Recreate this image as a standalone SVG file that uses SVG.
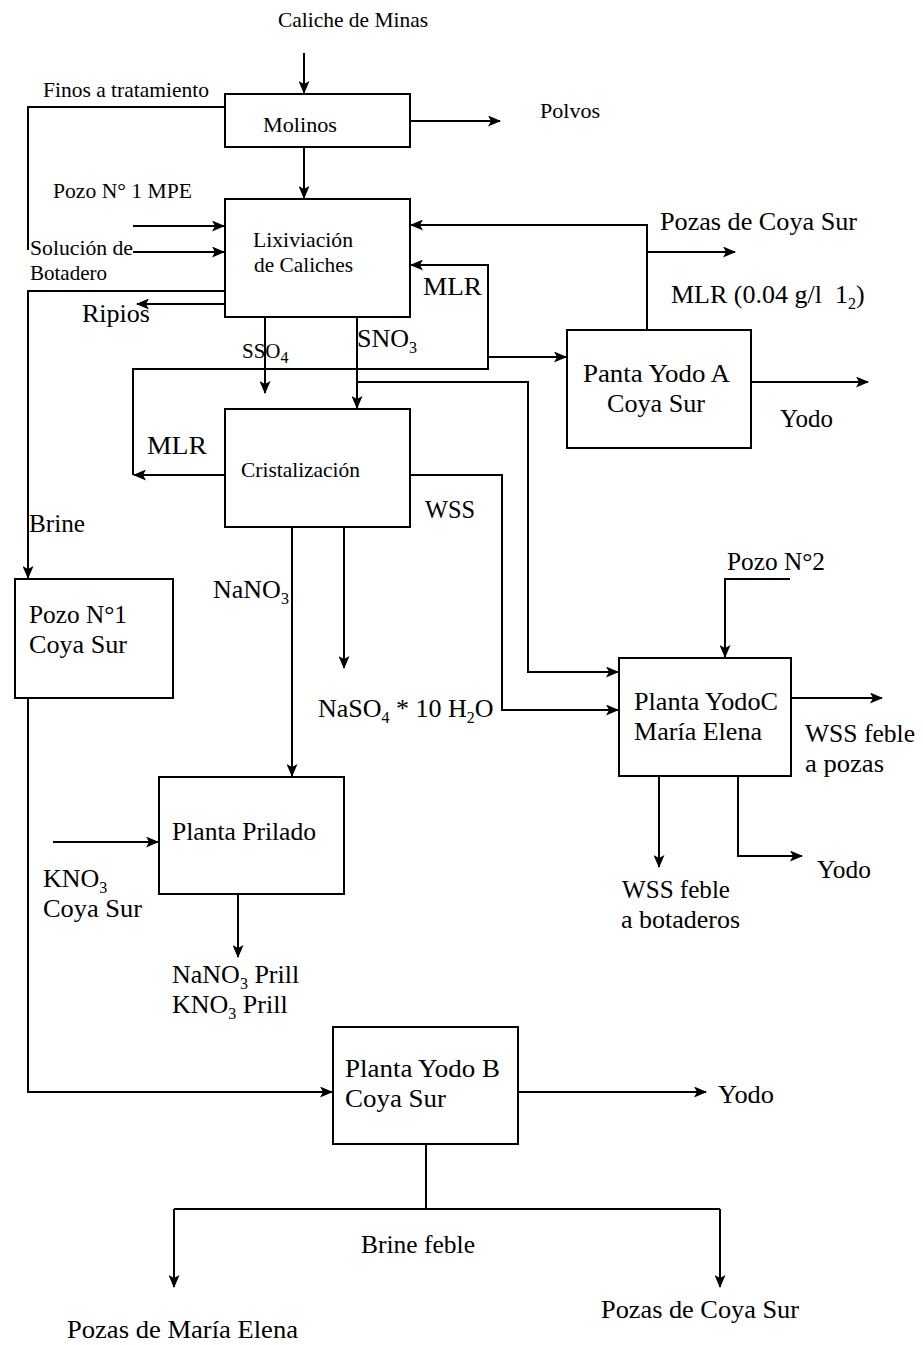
<svg xmlns="http://www.w3.org/2000/svg" width="923" height="1345" viewBox="0 0 923 1345">
<style>
.box{fill:#fff;stroke:#000;stroke-width:2}
.ln{fill:none;stroke:#000;stroke-width:2}
.arr{fill:none;stroke:#000;stroke-width:2;marker-end:url(#ah)}
.s{font-family:"Liberation Serif","Times New Roman",serif;font-size:21px;fill:#000}
.b{font-family:"Liberation Serif","Times New Roman",serif;font-size:26px;fill:#000}
.sub{font-size:16px}
</style>
<defs>
<marker id="ah" viewBox="0 0 13 11" refX="12" refY="5.5" markerWidth="13" markerHeight="11" markerUnits="userSpaceOnUse" orient="auto">
<path d="M0,0 L13,5.5 L0,11 L3,5.5 Z" fill="#000"/>
</marker>
</defs>
<rect width="923" height="1345" fill="#fff"/>

<g id="connectors">
<path class="arr" d="M304,53 V93"/>
<path class="arr" d="M410,121 H500"/>
<path class="arr" d="M304,147 V198"/>
<path class="ln" d="M225,107 H28 V250"/>
<path class="arr" d="M133,226 H224"/>
<path class="arr" d="M133,252 H224"/>
<path class="arr" d="M225,291 H28 V578"/>
<path class="arr" d="M225,304 H137"/>
<path class="arr" d="M647,330 V225 H411"/>
<path class="arr" d="M647,252 H735"/>
<path class="arr" d="M225,475 H134"/>
<path class="arr" d="M133,475 V369 H488 V265 H411"/>
<path class="arr" d="M488,357 H566"/>
<path class="arr" d="M265,317 V393"/>
<path class="arr" d="M357,317 V408"/>
<path class="arr" d="M357,382 H528 V672 H618"/>
<path class="arr" d="M410,475 H502 V710 H618"/>
<path class="arr" d="M790,579 H725 V657"/>
<path class="arr" d="M751,382 H868"/>
<path class="arr" d="M791,698 H882"/>
<path class="arr" d="M659,776 V867"/>
<path class="arr" d="M738,776 V856 H802"/>
<path class="arr" d="M292,527 V776"/>
<path class="arr" d="M344,527 V668"/>
<path class="arr" d="M53,842 H158"/>
<path class="arr" d="M238,894 V957"/>
<path class="arr" d="M28,698 V1092 H332"/>
<path class="arr" d="M518,1092 H706"/>
<path class="ln" d="M426,1144 V1209 M174,1209 H720"/>
<path class="arr" d="M174,1209 V1287"/>
<path class="arr" d="M720,1209 V1287"/>
</g>

<g id="molinos">
<rect class="box" x="225" y="94" width="185" height="53"/>
<text class="s" x="263" y="132" textLength="74" lengthAdjust="spacingAndGlyphs">Molinos</text>
</g>
<g id="lixiviacion">
<rect class="box" x="225" y="199" width="185" height="118"/>
<text class="s" x="253" y="247" textLength="100" lengthAdjust="spacingAndGlyphs">Lixiviación</text>
<text class="s" x="254" y="272" textLength="99" lengthAdjust="spacingAndGlyphs">de Caliches</text>
</g>
<g id="cristalizacion">
<rect class="box" x="225" y="409" width="185" height="118"/>
<text class="s" x="241" y="477" textLength="119" lengthAdjust="spacingAndGlyphs">Cristalización</text>
</g>
<g id="panta-yodo-a">
<rect class="box" x="567" y="330" width="184" height="118"/>
<text class="b" x="583" y="382" textLength="147" lengthAdjust="spacingAndGlyphs">Panta Yodo A</text>
<text class="b" x="607" y="412" textLength="98" lengthAdjust="spacingAndGlyphs">Coya Sur</text>
</g>
<g id="pozo-n1">
<rect class="box" x="15" y="579" width="158" height="119"/>
<text class="b" x="29" y="623" textLength="98" lengthAdjust="spacingAndGlyphs">Pozo N°1</text>
<text class="b" x="29" y="653" textLength="98" lengthAdjust="spacingAndGlyphs">Coya Sur</text>
</g>
<g id="planta-yodo-c">
<rect class="box" x="619" y="658" width="172" height="118"/>
<text class="b" x="634" y="710" textLength="144" lengthAdjust="spacingAndGlyphs">Planta YodoC</text>
<text class="b" x="634" y="740" textLength="128" lengthAdjust="spacingAndGlyphs">María Elena</text>
</g>
<g id="planta-prilado">
<rect class="box" x="159" y="777" width="185" height="117"/>
<text class="b" x="172" y="840" textLength="144" lengthAdjust="spacingAndGlyphs">Planta Prilado</text>
</g>
<g id="planta-yodo-b">
<rect class="box" x="333" y="1027" width="185" height="117"/>
<text class="b" x="345" y="1077" textLength="155" lengthAdjust="spacingAndGlyphs">Planta Yodo B</text>
<text class="b" x="345" y="1107" textLength="101" lengthAdjust="spacingAndGlyphs">Coya Sur</text>
</g>

<g id="labels">
<text class="s" x="278" y="27" textLength="150" lengthAdjust="spacingAndGlyphs">Caliche de Minas</text>
<text class="s" x="43" y="97" textLength="166" lengthAdjust="spacingAndGlyphs">Finos a tratamiento</text>
<text class="s" x="540" y="118" textLength="60" lengthAdjust="spacingAndGlyphs">Polvos</text>
<text class="s" x="53" y="198" textLength="139" lengthAdjust="spacingAndGlyphs">Pozo N° 1 MPE</text>
<text class="s" x="30" y="255" textLength="103" lengthAdjust="spacingAndGlyphs">Solución de</text>
<text class="s" x="30" y="280" textLength="77" lengthAdjust="spacingAndGlyphs">Botadero</text>
<text class="b" x="82" y="322" textLength="68" lengthAdjust="spacingAndGlyphs">Ripios</text>
<text class="b" x="423" y="295" textLength="59" lengthAdjust="spacingAndGlyphs">MLR</text>
<text class="s" x="242" y="358">SSO<tspan class="sub" dy="5">4</tspan></text>
<text class="b" x="357" y="347">SNO<tspan class="sub" dy="6">3</tspan></text>
<text class="b" x="660" y="230" textLength="197" lengthAdjust="spacingAndGlyphs">Pozas de Coya Sur</text>
<text class="b" x="671" y="303">MLR (0.04 g/l&#160; 1<tspan class="sub" dy="6">2</tspan><tspan dy="-6">)</tspan></text>
<text class="b" x="780" y="427" textLength="53" lengthAdjust="spacingAndGlyphs">Yodo</text>
<text class="b" x="147" y="454" textLength="60" lengthAdjust="spacingAndGlyphs">MLR</text>
<text class="b" x="425" y="518" textLength="50" lengthAdjust="spacingAndGlyphs">WSS</text>
<text class="b" x="29" y="532" textLength="56" lengthAdjust="spacingAndGlyphs">Brine</text>
<text class="b" x="213" y="598">NaNO<tspan class="sub" dy="6">3</tspan></text>
<text class="b" x="318" y="717">NaSO<tspan class="sub" dy="6">4</tspan><tspan dy="-6"> * 10 H</tspan><tspan class="sub" dy="6">2</tspan><tspan dy="-6">O</tspan></text>
<text class="b" x="727" y="570" textLength="98" lengthAdjust="spacingAndGlyphs">Pozo N°2</text>
<text class="b" x="805" y="742" textLength="110" lengthAdjust="spacingAndGlyphs">WSS feble</text>
<text class="b" x="805" y="772" textLength="79" lengthAdjust="spacingAndGlyphs">a pozas</text>
<text class="b" x="817" y="878" textLength="54" lengthAdjust="spacingAndGlyphs">Yodo</text>
<text class="b" x="622" y="898" textLength="108" lengthAdjust="spacingAndGlyphs">WSS feble</text>
<text class="b" x="621" y="928" textLength="119" lengthAdjust="spacingAndGlyphs">a botaderos</text>
<text class="b" x="43" y="887">KNO<tspan class="sub" dy="6">3</tspan></text>
<text class="b" x="43" y="917" textLength="99" lengthAdjust="spacingAndGlyphs">Coya Sur</text>
<text class="b" x="172" y="983">NaNO<tspan class="sub" dy="6">3</tspan><tspan dy="-6"> Prill</tspan></text>
<text class="b" x="172" y="1013">KNO<tspan class="sub" dy="6">3</tspan><tspan dy="-6"> Prill</tspan></text>
<text class="b" x="718" y="1103" textLength="56" lengthAdjust="spacingAndGlyphs">Yodo</text>
<text class="b" x="361" y="1253" textLength="114" lengthAdjust="spacingAndGlyphs">Brine feble</text>
<text class="b" x="67" y="1338" textLength="231" lengthAdjust="spacingAndGlyphs">Pozas de María Elena</text>
<text class="b" x="601" y="1318" textLength="198" lengthAdjust="spacingAndGlyphs">Pozas de Coya Sur</text>
</g>
</svg>
